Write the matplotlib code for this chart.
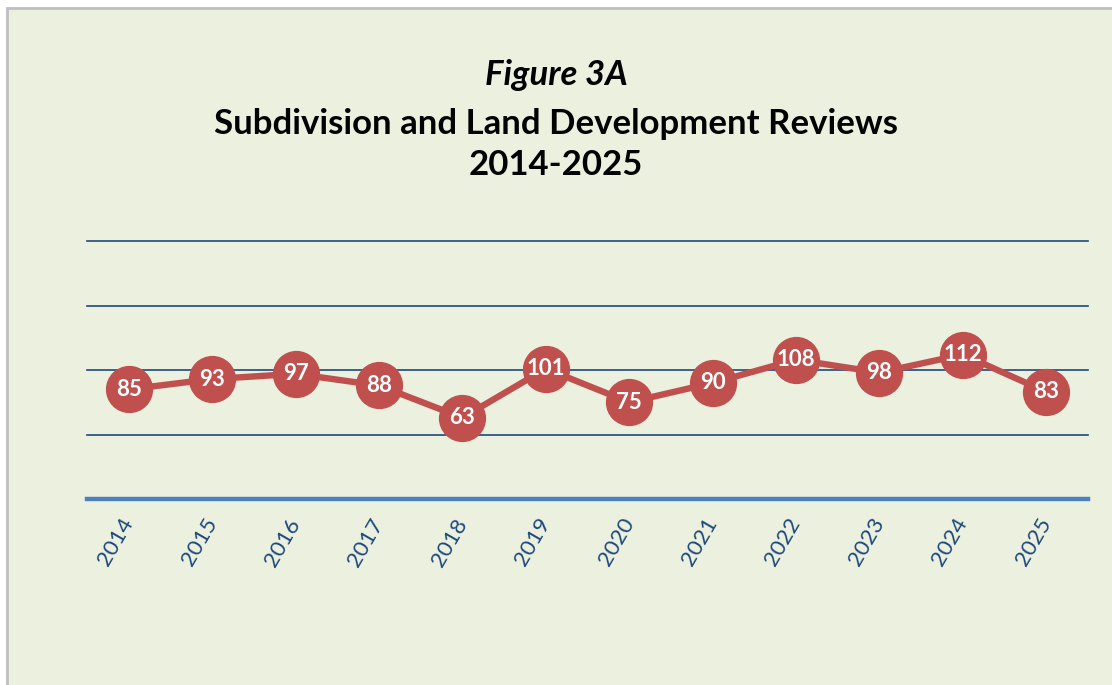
import matplotlib.pyplot as plt
from matplotlib.patches import Rectangle

# === data ===
years = ["2014", "2015", "2016", "2017", "2018", "2019", "2020",
         "2021", "2022", "2023", "2024", "2025"]
reviews = [85, 93, 97, 88, 63, 101, 75, 90, 108, 98, 112, 83]
grid_levels = [50, 100, 150, 200]

RED = "#C0504D"
NAVY = "#1F497D"
AXIS_BLUE = "#4F81BD"
BG = "#EBF0DF"

plt.rcParams["font.family"] = ["Lato", "DejaVu Sans"]

fig = plt.figure(figsize=(11.12, 6.85), dpi=100)
fig.patch.set_facecolor("white")

# chart area box (light green with grey border)
fig.patches.append(Rectangle((6.5 / 1112, -0.05), 1.1, 1 - 7.5 / 685 + 0.05,
                             transform=fig.transFigure, facecolor=BG,
                             edgecolor="#BFBFBF", linewidth=2, zorder=-1))

ax = fig.add_axes([87 / 1112, 1 - 499 / 685, 1001 / 1112, 258 / 685])
ax.set_zorder(1)
ax.set_facecolor("none")

x = list(range(len(years)))
ax.set_xlim(-0.5, len(years) - 0.5)
ax.set_ylim(0, 200)

for g in grid_levels:
    ax.axhline(g, color=NAVY, linewidth=1.2, zorder=1, clip_on=False)
ax.axhline(0, color=AXIS_BLUE, linewidth=3.2, zorder=1, clip_on=False)

ax.plot(x, reviews, color=RED, linewidth=4.6, marker="o", markersize=33,
        markerfacecolor=RED, markeredgecolor=RED, zorder=3, clip_on=False)

for xi, v in zip(x, reviews):
    ax.text(xi, v, str(v), ha="center", va="center", color="white",
            fontsize=16, fontweight="bold", zorder=4)

for s in ax.spines.values():
    s.set_visible(False)
ax.set_yticks([])
ax.set_xticks(x)
ax.set_xticklabels(years, rotation=60, ha="right", va="center",
                   rotation_mode="anchor", color=NAVY, fontsize=16)
ax.tick_params(axis="x", length=0, pad=15)

fig.text(0.5, 1 - 75 / 685, "Figure 3A", ha="center", va="center",
         fontsize=25, fontweight="bold", fontstyle="italic")
fig.text(0.5, 1 - 124 / 685, "Subdivision and Land Development Reviews",
         ha="center", va="center", fontsize=25, fontweight="bold")
fig.text(0.5, 1 - 165 / 685, "2014-2025", ha="center", va="center",
         fontsize=25, fontweight="bold")

fig.savefig("out.png", dpi=100)
